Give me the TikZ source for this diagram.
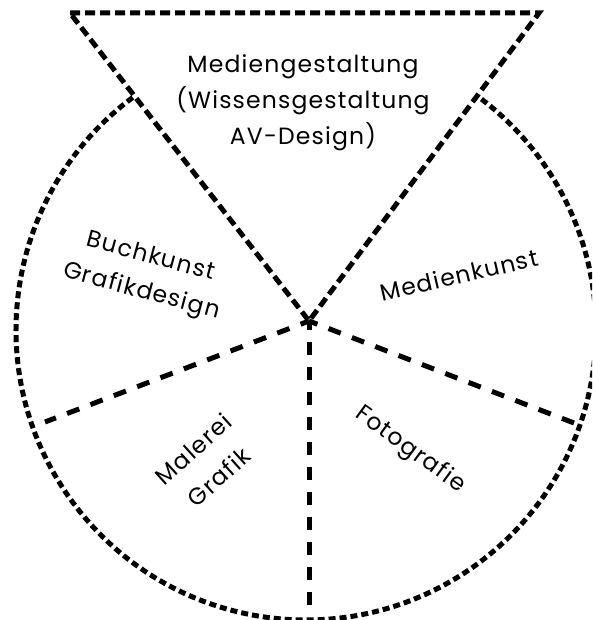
\documentclass[tikz,border=0pt]{standalone}
\usepackage{fontspec}
\setmainfont{Poppins}[LetterSpace=5]
\begin{document}
\begin{tikzpicture}[x=1pt,y=1pt,
  circ/.style={line width=5pt,dash pattern=on 7pt off 4pt},
  tri/.style={line width=5pt,dash pattern=on 10pt off 5pt,line join=miter},
  radial/.style={line width=5pt,dash pattern=on 13pt off 12pt,dash phase=4pt},
  lbl/.style={font=\fontsize{23.5}{36}\selectfont,align=center,inner sep=0pt}]
\clip (0,0) rectangle (592,620);
\useasboundingbox (0,0) rectangle (592,620);
\coordinate (ctr) at (306,290);
\coordinate (apex) at (309,299);
\coordinate (tl) at (70,607);
\coordinate (tr) at (539,607);
\coordinate (lend) at (45,198);
\coordinate (rend) at (574,197);
\coordinate (bend) at (309,12);
% outer arc
\draw[circ] ([shift={(126.7:290)}]ctr) arc[start angle=126.7,end angle=413.6,radius=290];
% triangle
\draw[tri] (tl) -- (tr) -- (apex) -- cycle;
% radial dividers
\draw[radial] (apex) -- (lend);
\draw[radial] (apex) -- (rend);
\draw[radial] (apex) -- (bend);
% labels
\node[lbl] (top) at (303,517) {Mediengestaltung\\(Wissensgestaltung\\AV-Design)};
\node[lbl,rotate=-15] (buch) at (146,345) {Buchkunst\\Grafikdesign};
\node[lbl,rotate=13] (medk) at (459,345) {Medienkunst};
\node[lbl,rotate=42,font=\fontsize{23.5}{38}\selectfont] (mal) at (206,157) {Malerei\\Grafik};
\node[lbl,rotate=-36] (foto) at (410,170) {Fotografie};
\end{tikzpicture}
\end{document}
